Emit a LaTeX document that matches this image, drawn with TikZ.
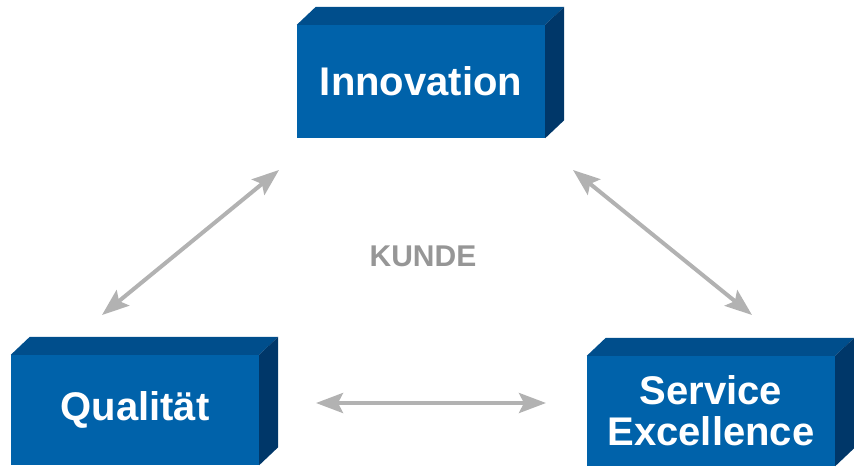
\documentclass[tikz,border=0pt]{standalone}
\usepackage{fontspec}
\setmainfont{Liberation Sans}
\usepackage{xcolor}
\usetikzlibrary{arrows.meta,positioning,calc}

\definecolor{boxfront}{RGB}{0,98,170}
\definecolor{boxtop}{RGB}{0,78,140}
\definecolor{boxside}{RGB}{0,55,105}
\definecolor{linkgray}{RGB}{178,178,178}
\definecolor{labelgray}{RGB}{150,150,150}

% front face as node, top and side faces drawn from its anchors
\newcommand{\blockfaces}[1]{%
  \fill[boxtop] (#1.north west) -- ++(19,-18) -- ($(#1.north east)+(19,-18)$) -- (#1.north east) -- cycle;
  \fill[boxside] (#1.north east) -- ++(19,-18) -- ($(#1.south east)+(19,-18)$) -- (#1.south east) -- cycle;
}

\begin{document}
\begin{tikzpicture}[x=1pt,y=-1pt]
  \tikzstyle{block}=[rectangle, fill=boxfront, inner sep=0pt, minimum width=248pt, minimum height=110pt, text=white, font=\bfseries\fontsize{40}{41}\selectfont, align=center]
  \tikzstyle{link}=[{Stealth[length=27pt,width=20pt,inset=5pt]}-{Stealth[length=27pt,width=20pt,inset=5pt]}, line width=4pt, linkgray]

  \useasboundingbox (0,0) rectangle (854,466);

  \node[block, minimum height=113pt] (inno) at (421,81.5) {Innovation};
  \node[block] (qual) at (135,410) {Qualität};
  \node[block] (serv) at (711,411) {Service\\Excellence};
  \blockfaces{inno}
  \blockfaces{qual}
  \blockfaces{serv}

  \node[font=\bfseries\fontsize{30}{32}\selectfont, text=labelgray] (kunde) at (423,256) {KUNDE};

  \coordinate (qi) at (102,315);
  \coordinate (iq) at (279,170);
  \coordinate (is) at (573,170);
  \coordinate (si) at (752,315);
  \coordinate (qs) at (316,403);
  \coordinate (sq) at (546,403);

  \draw[link] (qi) -- (iq);
  \draw[link] (is) -- (si);
  \draw[link] (qs) -- (sq);
\end{tikzpicture}
\end{document}
